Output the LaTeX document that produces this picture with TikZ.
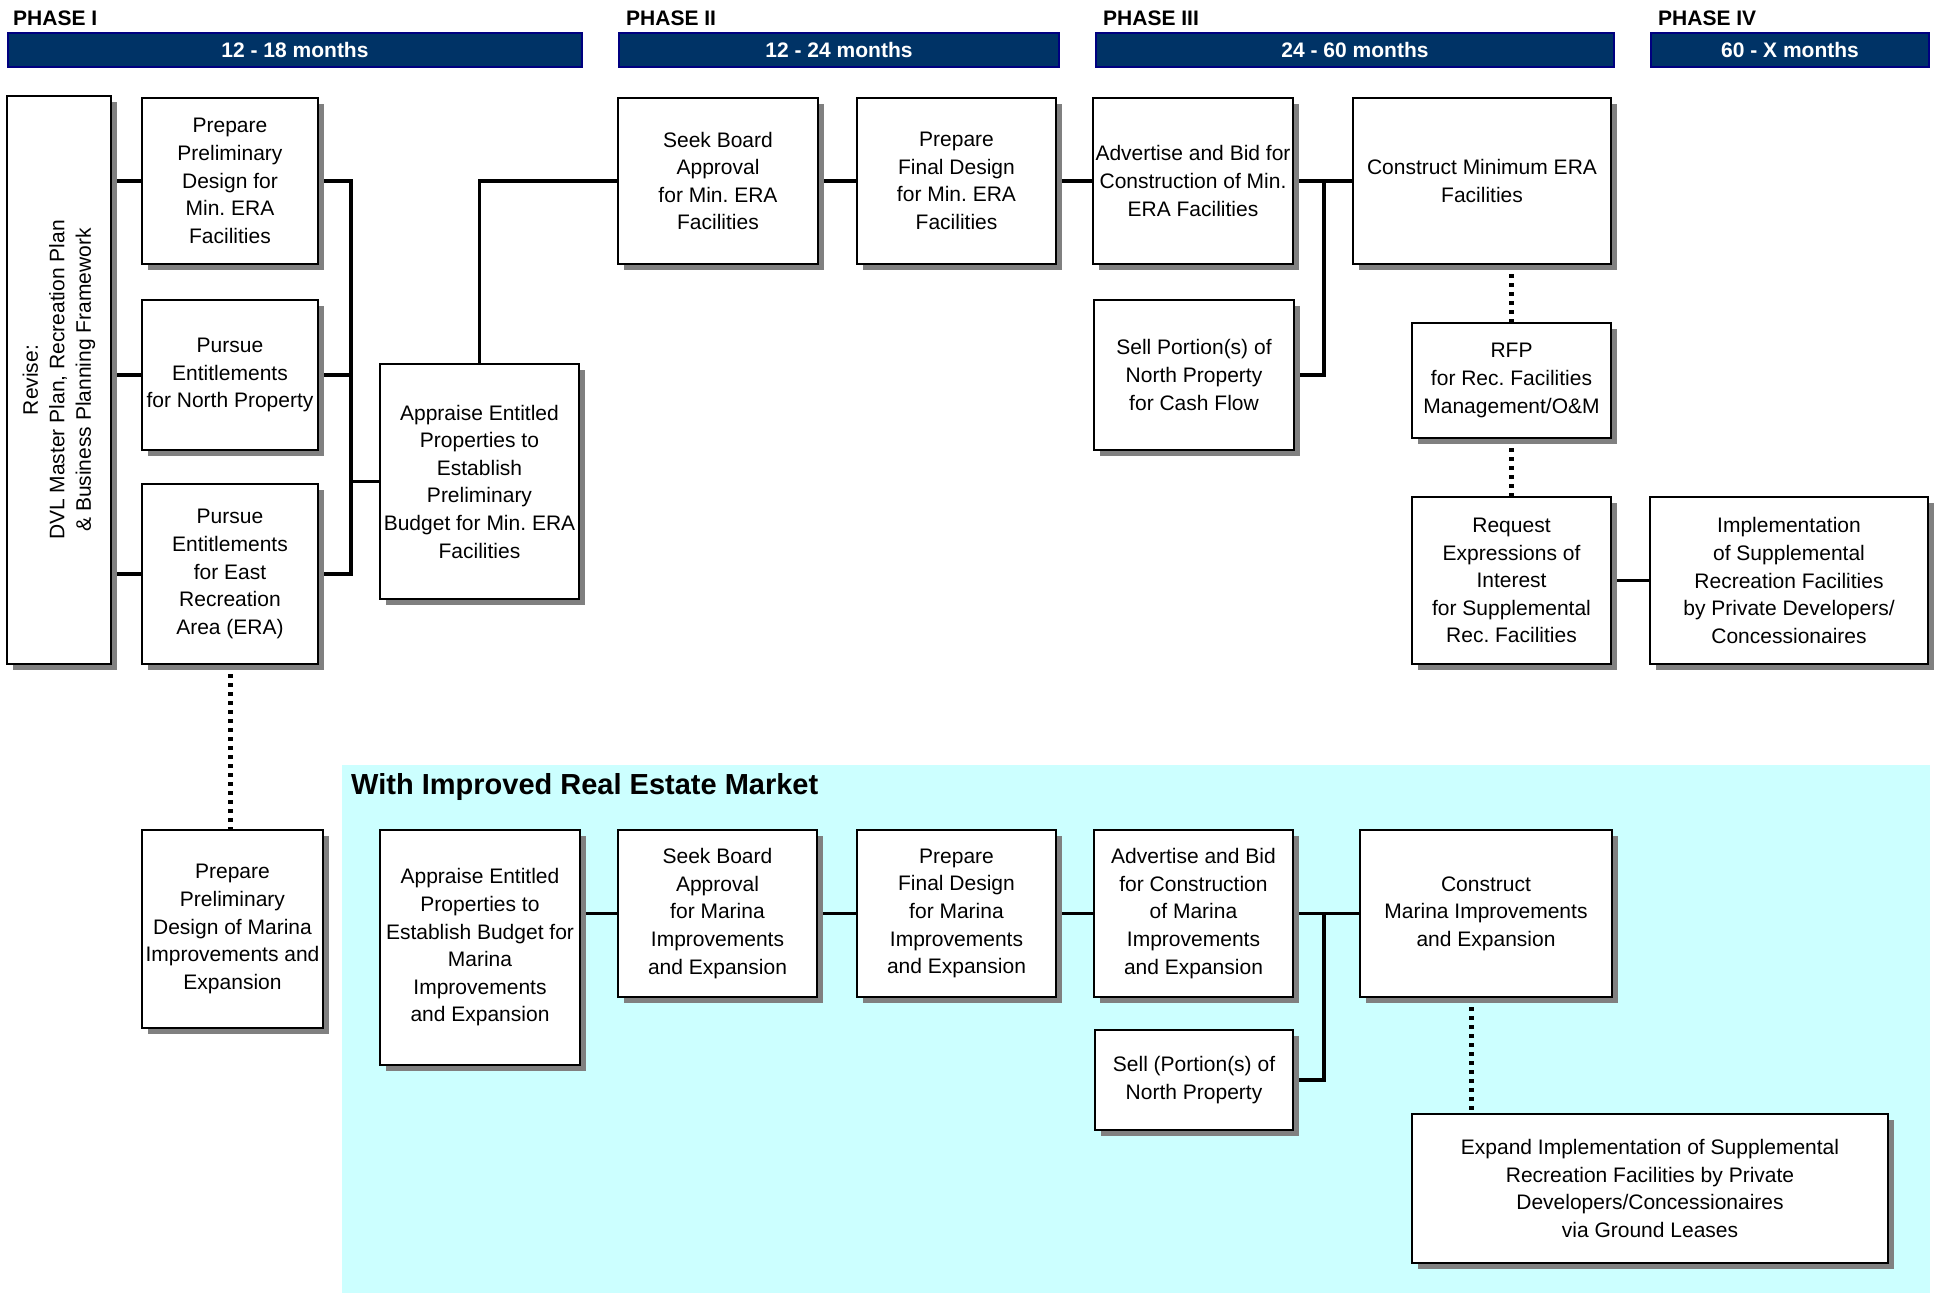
\documentclass[tikz,border=0pt]{standalone}
\usepackage{fontspec}
\setmainfont{Liberation Sans}
\usetikzlibrary{shadows}
\definecolor{navy}{RGB}{0,51,102}
\definecolor{navyedge}{RGB}{0,0,128}
\definecolor{cyanbg}{RGB}{204,255,255}
\definecolor{shadowgray}{RGB}{128,128,128}
\pgfdeclarelayer{bg}
\pgfdeclarelayer{lines}
\pgfsetlayers{bg,lines,main}
\frenchspacing
\begin{document}
\begin{tikzpicture}[x=1pt,y=-1pt,
  box/.style={draw=black, line width=2pt, fill=white, align=center, inner sep=1pt,
    font=\fontsize{21}{27.6}\selectfont\frenchspacing,
    drop shadow={shadow xshift=6pt, shadow yshift=-6pt, fill=shadowgray, opacity=1}},
  bar/.style={fill=navy, draw=navyedge, line width=1.5pt, text=white, inner sep=0pt,
    font=\fontsize{21}{25}\selectfont\bfseries},
  phase/.style={anchor=base west, inner sep=0pt, font=\fontsize{21}{25}\selectfont\bfseries},
  link/.style={line width=3.5pt},
  dots/.style={line width=5pt, dash pattern=on 4pt off 5pt}]
\useasboundingbox (0,0) rectangle (1938,1293);

\begin{pgfonlayer}{bg}
  \fill[white] (0,0) rectangle (1938,1293);
  \fill[cyanbg] (342,765) rectangle (1930,1293);
\end{pgfonlayer}

% phase headers
\node[phase] (ph1) at (13,25) {PHASE I};
\node[phase] (ph2) at (626,25) {PHASE II};
\node[phase] (ph3) at (1103,25) {PHASE III};
\node[phase] (ph4) at (1658,25) {PHASE IV};
\node[bar, minimum width=574pt, minimum height=34pt] (bar1) at (295,50) {12 - 18 months};
\node[bar, minimum width=440pt, minimum height=34pt] (bar2) at (839,50) {12 - 24 months};
\node[bar, minimum width=518pt, minimum height=34pt] (bar3) at (1355,50) {24 - 60 months};
\node[bar, minimum width=278pt, minimum height=34pt] (bar4) at (1790,50) {60 - X months};

% upper section
\node[box, minimum width=104pt, minimum height=568pt] (rev) at (59,380) {};
\node[rotate=90, align=center, inner sep=0pt, font=\fontsize{21}{26.5}\selectfont] (revt) at (rev.center)
  {Revise:\\DVL Master Plan, Recreation Plan\\\& Business Planning Framework};
\node[box, minimum width=176pt, minimum height=166pt] (pp) at (230,181)
  {Prepare\\Preliminary\\Design for\\Min. ERA\\Facilities};
\node[box, minimum width=176pt, minimum height=150pt] (pn) at (230,375)
  {Pursue\\Entitlements\\for North Property};
\node[box, minimum width=176pt, minimum height=180pt] (pe) at (230,574)
  {Pursue\\Entitlements\\for East\\Recreation\\Area (ERA)};
\node[box, minimum width=199pt, minimum height=235pt] (ap) at (479.5,481.5)
  {Appraise Entitled\\Properties to\\Establish\\Preliminary\\Budget for Min. ERA\\Facilities};
\node[box, minimum width=200pt, minimum height=166pt] (sb) at (718,181)
  {Seek Board\\Approval\\for Min. ERA\\Facilities};
\node[box, minimum width=199pt, minimum height=166pt] (pf) at (956.5,181)
  {Prepare\\Final Design\\for Min. ERA\\Facilities};
\node[box, minimum width=200pt, minimum height=166pt] (ad) at (1193,181)
  {Advertise and Bid for\\Construction of Min.\\ERA Facilities};
\node[box, minimum width=258pt, minimum height=166pt] (cm) at (1482,181)
  {Construct Minimum ERA\\Facilities};
\node[box, minimum width=200pt, minimum height=150pt] (sp) at (1194,375)
  {Sell Portion(s) of\\North Property\\for Cash Flow};
\node[box, minimum width=199pt, minimum height=115pt] (rfp) at (1511.5,380.5)
  {RFP\\for Rec. Facilities\\Management/O\&M};
\node[box, minimum width=199pt, minimum height=167pt] (req) at (1511.5,580.5)
  {Request\\Expressions of\\Interest\\for Supplemental\\Rec. Facilities};
\node[box, minimum width=278pt, minimum height=167pt] (imp) at (1789,580.5)
  {Implementation\\of Supplemental\\Recreation Facilities\\by Private Developers/\\Concessionaires};

% lower section
\node[anchor=base west, inner sep=0pt, font=\fontsize{29}{34}\selectfont\bfseries] (title) at (351,794)
  {With Improved Real Estate Market};
\node[box, minimum width=181pt, minimum height=198pt] (mp) at (232.5,929)
  {Prepare\\Preliminary\\Design of Marina\\Improvements and\\Expansion};
\node[box, minimum width=200pt, minimum height=235pt] (am) at (480,947.5)
  {Appraise Entitled\\Properties to\\Establish Budget for\\Marina\\Improvements\\and Expansion};
\node[box, minimum width=199pt, minimum height=167pt] (sm) at (717.5,913.5)
  {Seek Board\\Approval\\for Marina\\Improvements\\and Expansion};
\node[box, minimum width=199pt, minimum height=167pt] (fm) at (956.5,913.5)
  {Prepare\\Final Design\\for Marina\\Improvements\\and Expansion};
\node[box, minimum width=199pt, minimum height=167pt] (adm) at (1193.5,913.5)
  {Advertise and Bid\\for Construction\\of Marina\\Improvements\\and Expansion};
\node[box, minimum width=252pt, minimum height=167pt] (cmm) at (1486,913.5)
  {Construct\\Marina Improvements\\and Expansion};
\node[box, minimum width=198pt, minimum height=100pt] (spm) at (1194,1080)
  {Sell (Portion(s) of\\North Property};
\node[box, minimum width=476pt, minimum height=149pt] (ex) at (1650,1188.5)
  {Expand Implementation of Supplemental\\Recreation Facilities by Private\\Developers/Concessionaires\\via Ground Leases};

% connectors
\coordinate (j1) at (351,0);
\coordinate (j2) at (1324,0);
\coordinate (j3) at (1471,0);
\begin{pgfonlayer}{lines}
  \draw[link] (rev.east |- pp.west) -- (pp.west);
  \draw[link] (rev.east |- pn.west) -- (pn.west);
  \draw[link] (rev.east |- pe.west) -- (pe.west);
  \draw[link] (pp.east) -- (pp.east -| j1) -- (pe.east -| j1) -- (pe.east);
  \draw[link] (pn.east) -- (pn.east -| j1);
  \draw[link] (ap.west -| j1) -- (ap.west);
  \draw[link] (ap.north) |- (sb.west);
  \draw[link] (sb.east) -- (pf.west);
  \draw[link] (pf.east) -- (ad.west);
  \draw[link] (ad.east) -- (cm.west);
  \draw[link] (ad.east -| j2) |- (sp.east);
  \draw[link] (req.east) -- (imp.west);
  \draw[link] (sm.west -| am.east) -- (sm.west);
  \draw[link] (sm.east) -- (fm.west);
  \draw[link] (fm.east) -- (adm.west);
  \draw[link] (adm.east) -- (cmm.west);
  \draw[link] (adm.east -| j2) |- (spm.east);
  \draw[dots] (pe.south) -- (pe.south |- mp.north);
  \draw[dots] (cm.south -| rfp.north) -- (rfp.north);
  \draw[dots] (rfp.south) -- (req.north);
  \draw[dots] (cmm.south -| j3) -- (ex.north -| j3);
\end{pgfonlayer}
\end{tikzpicture}
\end{document}
